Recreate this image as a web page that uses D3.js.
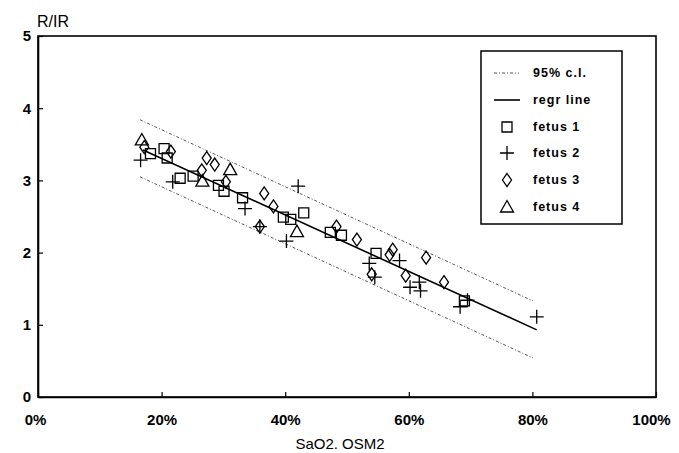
<!DOCTYPE html>
<html><head><meta charset="utf-8">
<script src="https://cdn.jsdelivr.net/npm/d3@7/dist/d3.min.js"></script>
<style>body{margin:0;background:#fff}svg{display:block}</style>
</head><body>
<svg id="c" width="679" height="453"></svg>
<script>
// ---- data (SaO2 in %, R/IR) ----
const xTicks = [0, 20, 40, 60, 80, 100];
const yTicks = [0, 1, 2, 3, 4, 5];
const fetus1 = [[18.2,3.37],[20.4,3.44],[20.9,3.31],[23.0,3.03],[25.1,3.06],[29.2,2.93],[30.1,2.85],[33.1,2.76],[39.7,2.49],[40.9,2.46],[43.0,2.55],[47.3,2.28],[49.1,2.24],[54.7,1.99],[69.0,1.33]];
const fetus2 = [[16.6,3.28],[21.8,2.98],[33.5,2.61],[35.9,2.36],[40.2,2.16],[42.1,2.92],[53.6,1.85],[54.5,1.66],[58.5,1.89],[60.2,1.52],[61.7,1.59],[61.9,1.47],[68.3,1.25],[69.5,1.34],[80.7,1.11]];
const fetus3 = [[17.2,3.46],[21.5,3.40],[26.5,3.14],[27.3,3.31],[28.6,3.22],[30.4,2.98],[36.6,2.82],[38.1,2.64],[35.9,2.36],[48.3,2.36],[51.6,2.18],[54.0,1.70],[56.9,1.97],[57.4,2.04],[59.5,1.68],[62.8,1.93],[65.7,1.59]];
const fetus4 = [[16.8,3.56],[26.6,2.99],[31.1,3.15],[41.9,2.29]];
const regrLine = [[17.0,3.42],[80.7,0.93]];
const ciUpper = [[16.5,3.84],[80.1,1.33]];
const ciLower = [[16.5,3.05],[80.1,0.54]];
const legendLabels = ["95% c.l.","regr line","fetus 1","fetus 2","fetus 3","fetus 4"];

// ---- layout ----
const svg = d3.select("#c");
const L = 38, R = 656, T = 36, B = 397;
const x = d3.scaleLinear().domain([0,100]).range([L,R]);
const y = d3.scaleLinear().domain([0,5]).range([B,T]);
const font = "'Liberation Sans', Arial, sans-serif";

// frame
svg.append("rect").attr("x",L).attr("y",T).attr("width",R-L).attr("height",B-T)
  .attr("fill","none").attr("stroke","#000").attr("stroke-width",1.6);

// axes (inner ticks)
const xAx = svg.append("g").attr("transform",`translate(0,${B})`)
  .call(d3.axisBottom(x).tickValues(xTicks).tickSizeInner(-5).tickSizeOuter(0).tickPadding(23).tickFormat(d=>d+"%"));
const yAx = svg.append("g").attr("transform",`translate(${L},0)`)
  .call(d3.axisLeft(y).tickValues(yTicks).tickSizeInner(-5).tickSizeOuter(0).tickPadding(7).tickFormat(d3.format("d")));
[xAx,yAx].forEach(g=>{
  g.select(".domain").attr("stroke","#000").attr("stroke-width",1.6);
  g.selectAll(".tick line").attr("stroke","#000").attr("stroke-width",1.2);
  g.selectAll("text").attr("fill","#000").style("font-family",font).style("font-weight","bold").style("font-size","15px");
});
xAx.selectAll(".tick text").attr("dy","0.35em");
xAx.selectAll(".tick").filter(d=>d===0).select("text").attr("dx","-3");
xAx.selectAll(".tick").filter(d=>d===100).select("text").attr("dx","-5");

// axis titles
svg.append("text").attr("x",37).attr("y",27).text("R/IR")
  .style("font-family",font).style("font-size","16px").attr("fill","#000");
svg.append("text").attr("x",340).attr("y",449).attr("text-anchor","middle").text("SaO2. OSM2")
  .style("font-family",font).style("font-size","15px").attr("fill","#000");

// lines
const line = d3.line().x(d=>x(d[0])).y(d=>y(d[1]));
[ciUpper,ciLower].forEach(d=>svg.append("path").attr("d",line(d)).attr("fill","none")
  .attr("stroke","#555").attr("stroke-width",1).attr("stroke-dasharray","3,2,1,2"));
svg.append("path").attr("d",line(regrLine)).attr("fill","none").attr("stroke","#000").attr("stroke-width",1.6);

// symbols
const sym = {
  square: "M-5,-5H5V5H-5Z",
  plus: "M-7,0H7M0,-7V7",
  diamond: "M0,-6.5L4.5,0L0,6.5L-4.5,0Z",
  tri: "M0,-6.5L6.5,5L-6.5,5Z"
};
function drawPts(data, s){
  svg.append("g").selectAll("path").data(data).join("path")
    .attr("transform",d=>`translate(${x(d[0])},${y(d[1])})`)
    .attr("d",sym[s]).attr("fill","none").attr("stroke","#000").attr("stroke-width",1.3);
}
drawPts(fetus1,"square");
drawPts(fetus2,"plus");
drawPts(fetus3,"diamond");
drawPts(fetus4,"tri");

// legend
const lg = svg.append("g");
lg.append("rect").attr("x",481).attr("y",51).attr("width",141).attr("height",173)
  .attr("fill","#fff").attr("stroke","#000").attr("stroke-width",1.5);
const rowY = [73,100,127,153,180,207];
const symKeys = [null,null,"square","plus","diamond","tri"];
legendLabels.forEach((t,i)=>{
  const yy = rowY[i];
  if(i===0) lg.append("line").attr("x1",494).attr("x2",519).attr("y1",yy).attr("y2",yy)
    .attr("stroke","#555").attr("stroke-width",1).attr("stroke-dasharray","3,2,1,2");
  else if(i===1) lg.append("line").attr("x1",494).attr("x2",520).attr("y1",yy).attr("y2",yy)
    .attr("stroke","#000").attr("stroke-width",1.6);
  else lg.append("path").attr("transform",`translate(507,${yy})`).attr("d",sym[symKeys[i]])
    .attr("fill","none").attr("stroke","#000").attr("stroke-width",1.3);
  lg.append("text").attr("x",533).attr("y",yy).attr("dy","0.35em").text(t)
    .style("font-family",font).style("font-weight","bold").style("font-size","12.5px")
    .style("letter-spacing","1px").attr("fill","#000");
});
</script>
</body></html>
